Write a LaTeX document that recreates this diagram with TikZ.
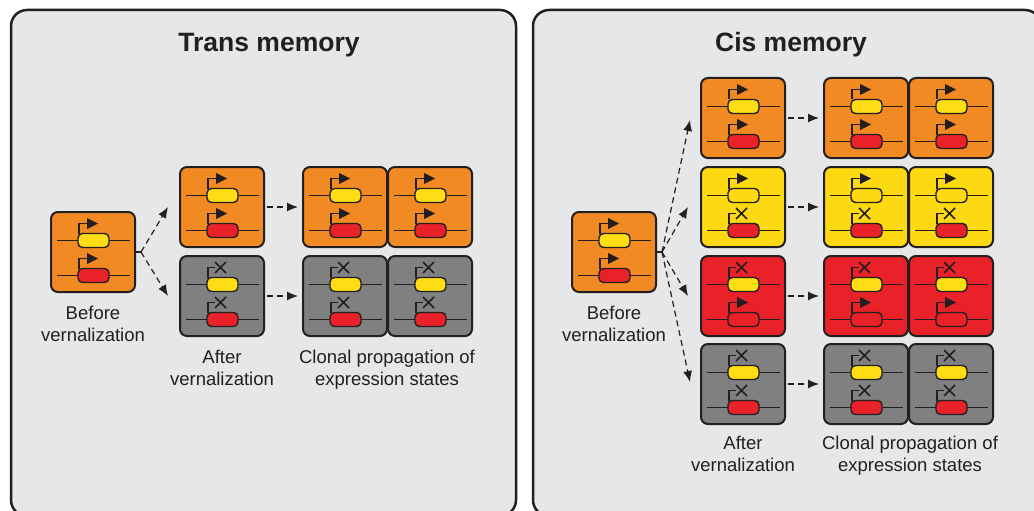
\documentclass[tikz,border=0pt]{standalone}
\usepackage{fontspec}
\setmainfont{Liberation Sans}
\usetikzlibrary{arrows.meta,calc}
\definecolor{ink}{HTML}{231F20}
\definecolor{panelbg}{HTML}{E6E7E8}
\definecolor{orangec}{HTML}{F18A22}
\definecolor{yellowc}{HTML}{FDD912}
\definecolor{redc}{HTML}{E92229}
\definecolor{grayc}{HTML}{808080}
\definecolor{gy}{HTML}{FFDD15}
\definecolor{gr}{HTML}{E92229}
\tikzset{
  panel/.style={draw=ink, line width=2.5pt, fill=panelbg, rounded corners=16pt},
  cellbox/.style={draw=ink, line width=2pt, rounded corners=7pt, minimum width=84pt, minimum height=80pt, inner sep=0pt, outer sep=0pt, anchor=north west},
  geneline/.style={draw=ink, line width=1.2pt},
  genebody/.style={draw=ink, line width=1.4pt, rounded corners=4.5pt},
  promoter/.style={draw=ink, line width=1.3pt},
  stub/.style={draw=ink, line width=1.2pt},
  flow/.style={draw=ink, line width=1.2pt, dash pattern=on 6pt off 4pt, -{Latex[length=11pt,width=9pt]}},
  title/.style={font=\fontsize{26.5}{30}\selectfont\bfseries, text=ink, anchor=base, inner sep=0pt},
  lbl/.style={font=\fontsize{18.5}{22}\selectfont, text=ink, align=center, anchor=north, inner sep=0pt},
}
\newcommand{\geneOn}[3]{%
  \draw[geneline] ({#1+6},{#2}) -- ({#1+79},{#2});
  \draw[genebody,fill=#3] ({#1+27},{#2-7}) rectangle ({#1+58},{#2+7});
  \draw[promoter] ({#1+28},{#2-7}) -- ({#1+28},{#2-17}) -- ({#1+37},{#2-17});
  \fill[ink] ({#1+36},{#2-22.5}) -- ({#1+47},{#2-17}) -- ({#1+36},{#2-11.5}) -- cycle;
}
\newcommand{\geneOff}[3]{%
  \draw[geneline] ({#1+6},{#2}) -- ({#1+79},{#2});
  \draw[genebody,fill=#3] ({#1+27},{#2-7}) rectangle ({#1+58},{#2+7});
  \draw[promoter] ({#1+28},{#2-7}) -- ({#1+28},{#2-17}) -- ({#1+35},{#2-17});
  \draw[promoter, line width=1.7pt] ({#1+35},{#2-22.5}) -- ({#1+46},{#2-11.5}) ({#1+35},{#2-11.5}) -- ({#1+46},{#2-22.5});
}
\newcommand{\cell}[8]{%
  \node[cellbox, fill=#4] (#1) at (#2,#3) {};
  #5{#2}{#3+28.5}{#6}
  #7{#2}{#3+63.5}{#8}
}
\begin{document}
\begin{tikzpicture}[x=1pt,y=-1pt]
\useasboundingbox (0,0) rectangle (1034,511);
% panels
\draw[panel] (11,10) rectangle (516,516);
\draw[panel] (533,10) rectangle (1041,516);
\node[title] (tleft) at (269,51.5) {Trans memory};
\node[title] (tright) at (791,51.5) {Cis memory};
% left panel cells
\cell{lb}{51}{212}{orangec}{\geneOn}{gy}{\geneOn}{gr}
\cell{la1}{180}{167}{orangec}{\geneOn}{gy}{\geneOn}{gr}
\cell{la2}{180}{256}{grayc}{\geneOff}{gy}{\geneOff}{gr}
\cell{lc1}{303}{167}{orangec}{\geneOn}{gy}{\geneOn}{gr}
\cell{ld1}{388}{167}{orangec}{\geneOn}{gy}{\geneOn}{gr}
\cell{lc2}{303}{256}{grayc}{\geneOff}{gy}{\geneOff}{gr}
\cell{ld2}{388}{256}{grayc}{\geneOff}{gy}{\geneOff}{gr}
% right panel cells
\cell{rb}{572}{212}{orangec}{\geneOn}{gy}{\geneOn}{gr}
\cell{ra1}{701}{78}{orangec}{\geneOn}{gy}{\geneOn}{gr}
\cell{rc1}{824}{78}{orangec}{\geneOn}{gy}{\geneOn}{gr}
\cell{rd1}{909}{78}{orangec}{\geneOn}{gy}{\geneOn}{gr}
\cell{ra2}{701}{167}{yellowc}{\geneOn}{yellowc}{\geneOff}{gr}
\cell{rc2}{824}{167}{yellowc}{\geneOn}{yellowc}{\geneOff}{gr}
\cell{rd2}{909}{167}{yellowc}{\geneOn}{yellowc}{\geneOff}{gr}
\cell{ra3}{701}{256}{redc}{\geneOff}{gy}{\geneOn}{redc}
\cell{rc3}{824}{256}{redc}{\geneOff}{gy}{\geneOn}{redc}
\cell{rd3}{909}{256}{redc}{\geneOff}{gy}{\geneOn}{redc}
\cell{ra4}{701}{344}{grayc}{\geneOff}{gy}{\geneOff}{gr}
\cell{rc4}{824}{344}{grayc}{\geneOff}{gy}{\geneOff}{gr}
\cell{rd4}{909}{344}{grayc}{\geneOff}{gy}{\geneOff}{gr}
% left connectors
\coordinate (lbr) at ($(lb.east)+(6,0)$);
\draw[stub] (lb.east) -- (lbr);
\draw[flow] (lbr) -- ($(la1.west)+(-12,0)$);
\draw[flow] (lbr) -- ($(la2.west)+(-12,0)$);
\draw[flow] ($(la1.east)+(3,0)$) -- ($(lc1.west)+(-5,0)$);
\draw[flow] ($(la2.east)+(3,0)$) -- ($(lc2.west)+(-5,0)$);
% right connectors
\coordinate (rbr) at ($(rb.east)+(6,0)$);
\draw[stub] (rb.east) -- (rbr);
\draw[flow] (rbr) -- ($(ra1.west)+(-11,2)$);
\draw[flow] (rbr) -- ($(ra2.west)+(-13,0)$);
\draw[flow] (rbr) -- ($(ra3.west)+(-13,0)$);
\draw[flow] (rbr) -- ($(ra4.west)+(-11,-2)$);
\draw[flow] ($(ra1.east)+(3,0)$) -- ($(rc1.west)+(-5,0)$);
\draw[flow] ($(ra2.east)+(3,0)$) -- ($(rc2.west)+(-5,0)$);
\draw[flow] ($(ra3.east)+(3,0)$) -- ($(rc3.west)+(-5,0)$);
\draw[flow] ($(ra4.east)+(3,0)$) -- ($(rc4.west)+(-5,0)$);
% labels
\node[lbl] (lbl1) at (93,306) {Before\\vernalization};
\node[lbl] (lbl2) at (222,350) {After\\vernalization};
\node[lbl] (lbl3) at (387,350) {Clonal propagation of\\expression states};
\node[lbl] (lbl4) at (614,306) {Before\\vernalization};
\node[lbl] (lbl5) at (743,436) {After\\vernalization};
\node[lbl] (lbl6) at (910,436) {Clonal propagation of\\expression states};
\end{tikzpicture}
\end{document}
